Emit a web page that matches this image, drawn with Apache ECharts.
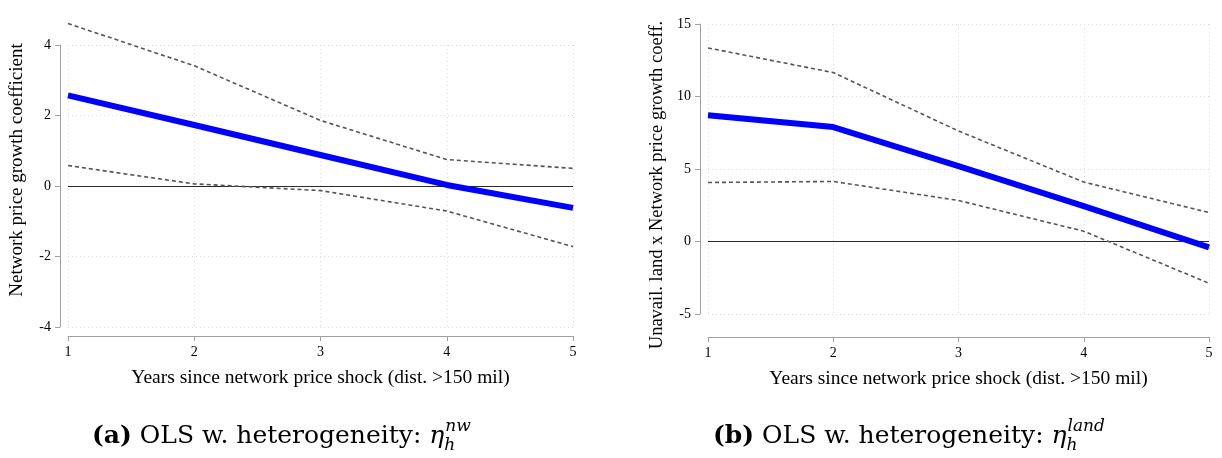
<!DOCTYPE html>
<html>
<head>
<meta charset="utf-8">
<script src="https://cdn.jsdelivr.net/npm/echarts@6/dist/echarts.min.js"></script>
<style>
  html, body { margin: 0; padding: 0; background: #ffffff; }
  #chart { width: 1222px; height: 458px; }
</style>
</head>
<body>
<div id="chart"></div>
<script>
// years since shock
const years = [1, 2, 3, 4, 5]

// (a) eta_h^nw
const nwCoef = [2.57, 1.73, 0.88, 0.03, -0.62]
const nwUpper = [4.61, 3.41, 1.86, 0.75, 0.50]
const nwLower = [0.58, 0.06, -0.13, -0.71, -1.72]
const nwTicks = [-4, -2, 0, 2, 4]

// (b) eta_h^land
const landCoef = [8.70, 7.89, 5.20, 2.44, -0.41]
const landUpper = [13.35, 11.65, 7.62, 4.10, 2.00]
const landLower = [4.07, 4.14, 2.83, 0.71, -2.88]
const landTicks = [-5, 0, 5, 10, 15]

const xTitle = 'Years since network price shock (dist. >150 mil)'
const serif = 'Liberation Serif'
const capFont = 'DejaVu Serif'

function pairs (vals) {
  return years.map((x, i) => [x, vals[i]])
}

function xAxisFor (idx, off) {
  return {
    gridIndex: idx,
    type: 'value',
    min: years[0],
    max: years[years.length - 1],
    interval: 1,
    offset: off,
    name: xTitle,
    nameLocation: 'middle',
    nameGap: 32,
    nameTextStyle: { fontFamily: serif, fontSize: 19.5, color: '#000' },
    axisLine: { onZero: false, lineStyle: { color: '#a0a0a0', width: 1 } },
    axisTick: { length: 5, lineStyle: { color: '#a0a0a0' } },
    axisLabel: { fontFamily: serif, fontSize: 14, color: '#000', margin: 9 },
    splitLine: { show: true, lineStyle: { color: '#dcdcdc', type: [1, 3], width: 1 } }
  }
}

function yAxisFor (idx, ticks, title, size, pad) {
  return {
    gridIndex: idx,
    type: 'value',
    min: ticks[0],
    max: ticks[ticks.length - 1],
    interval: ticks[1] - ticks[0],
    offset: 8,
    name: title,
    nameLocation: 'middle',
    nameRotate: 90,
    nameGap: 33,
    nameTextStyle: { fontFamily: serif, fontSize: size, color: '#000', padding: pad },
    axisLine: { show: true, onZero: false, lineStyle: { color: '#a0a0a0', width: 1 } },
    axisTick: { show: true, length: 5, lineStyle: { color: '#a0a0a0' } },
    axisLabel: { fontFamily: serif, fontSize: 14, color: '#000', margin: 9 },
    splitLine: { show: true, lineStyle: { color: '#dcdcdc', type: [1, 3], width: 1 } }
  }
}

function bandLine (idx, vals) {
  return {
    type: 'line',
    xAxisIndex: idx,
    yAxisIndex: idx,
    data: pairs(vals),
    symbol: 'none',
    clip: false,
    z: 3,
    lineStyle: { color: '#555555', width: 1.6, type: [4, 3] }
  }
}

function coefLine (idx, vals) {
  return {
    type: 'line',
    xAxisIndex: idx,
    yAxisIndex: idx,
    data: pairs(vals),
    symbol: 'none',
    clip: false,
    z: 4,
    lineStyle: { color: '#0000ff', width: 6 },
    markLine: {
      silent: true,
      symbol: 'none',
      z: 2,
      label: { show: false },
      lineStyle: { color: '#2a2a2a', width: 1, type: 'solid' },
      data: [{ yAxis: 0 }]
    }
  }
}

function caption (left, letter, sup) {
  return {
    left: left,
    top: 418,
    padding: 0,
    text: '{b|(' + letter + ')} OLS w. heterogeneity: {eta|η}{sub|h}{sup|' + sup + '}',
    textStyle: {
      fontFamily: capFont,
      fontSize: 25,
      fontWeight: 'normal',
      color: '#000',
      lineHeight: 36,
      rich: {
        b: { fontFamily: capFont, fontSize: 25, fontWeight: 'bold', color: '#000' },
        eta: { fontFamily: capFont, fontSize: 25, fontStyle: 'italic', color: '#000' },
        sub: { fontFamily: capFont, fontSize: 17, fontStyle: 'italic', color: '#000', verticalAlign: 'bottom', width: 1 },
        sup: { fontFamily: capFont, fontSize: 17, fontStyle: 'italic', color: '#000', verticalAlign: 'top' }
      }
    }
  }
}

const option = {
  backgroundColor: '#ffffff',
  animation: false,
  title: [
    caption(92, 'a', 'nw'),
    caption(713, 'b', 'land')
  ],
  grid: [
    { left: 68, width: 505, top: 45, height: 282 },
    { left: 708, width: 501, top: 24, height: 290 }
  ],
  xAxis: [xAxisFor(0, 9), xAxisFor(1, 23)],
  yAxis: [
    yAxisFor(0, nwTicks, 'Network price growth coefficient', 19, [0, 0, 0, 32]),
    yAxisFor(1, landTicks, 'Unavail. land x Network price growth coeff.', 18.5, [0, 32, 0, 0])
  ],
  series: [
    bandLine(0, nwUpper),
    bandLine(0, nwLower),
    coefLine(0, nwCoef),
    bandLine(1, landUpper),
    bandLine(1, landLower),
    coefLine(1, landCoef)
  ]
}

const myChart = echarts.init(document.getElementById('chart'))
myChart.setOption(option)
</script>
</body>
</html>
